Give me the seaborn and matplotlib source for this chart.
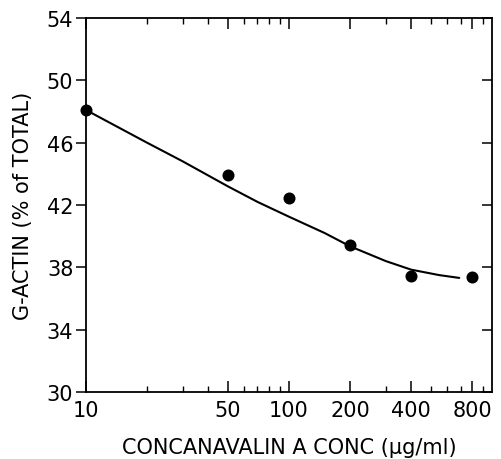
#importing plotting libraries
import matplotlib
matplotlib.use("Agg")
import matplotlib.pyplot as plt
import matplotlib.ticker as mticker
import seaborn as sns
import pandas as pd

#measured points (concanavalin A conc, % G-actin)
conc = [10, 50, 100, 200, 400, 800]
g_actin = [48.1, 43.95, 42.45, 39.45, 37.45, 37.4]

#fitted curve
curve_conc = [10, 20, 30, 50, 70, 100, 150, 200, 300, 400, 550, 690]
curve_val = [48.1, 46.0, 44.8, 43.2, 42.2, 41.25, 40.2, 39.35, 38.4, 37.85, 37.5, 37.32]

#tick positions and labels
x_ticks = [10, 50, 100, 200, 400, 800]
x_minor = [20, 30, 40, 60, 70, 80, 90, 300, 500, 600, 700, 900]
y_ticks = [30, 34, 38, 42, 46, 50, 54]

pts = pd.DataFrame({"conc": conc, "g_actin": g_actin})
curve = pd.DataFrame({"conc": curve_conc, "val": curve_val})

sns.set_style("ticks")
plt.rcParams["font.family"] = ["DejaVu Sans"]
plt.rcParams["text.color"] = "black"
plt.rcParams["axes.labelcolor"] = "black"
plt.rcParams["xtick.color"] = "black"
plt.rcParams["ytick.color"] = "black"
plt.rcParams["axes.edgecolor"] = "black"

fig = plt.figure(figsize=(5.02, 4.6), dpi=100)
ax = fig.add_axes([0.171, 0.1457, 0.809, 0.813])

#drawing curve and points
sns.lineplot(data=curve, x="conc", y="val", color="black", linewidth=1.5, ax=ax)
sns.scatterplot(data=pts, x="conc", y="g_actin", color="black", s=75,
                edgecolor="black", linewidth=0, ax=ax, clip_on=False, zorder=5)

ax.set_xscale("log")
ax.set_xlim(10, 1000)
ax.set_ylim(30, 54)

ax.xaxis.set_major_locator(mticker.FixedLocator(x_ticks))
ax.xaxis.set_major_formatter(mticker.FixedFormatter([str(t) for t in x_ticks]))
ax.xaxis.set_minor_locator(mticker.FixedLocator(x_minor))
ax.xaxis.set_minor_formatter(mticker.NullFormatter())
ax.set_yticks(y_ticks)

for s in ax.spines.values():
    s.set_linewidth(1.3)
    s.set_visible(True)

ax.tick_params(axis="x", which="major", direction="in", length=8, width=1.1,
               top=True, labelsize=15, pad=6)
ax.tick_params(axis="x", which="minor", direction="in", length=4, width=1.0, top=True)
ax.tick_params(axis="y", which="major", direction="out", length=7, width=1.1,
               labelsize=15, pad=2)

#right side ticks point inward
ax2 = ax.twinx()
ax2.set_ylim(30, 54)
ax2.set_yticks(y_ticks)
ax2.tick_params(axis="y", direction="in", length=7, width=1.1, labelright=False)
for s in ax2.spines.values():
    s.set_visible(False)

ax.set_xlabel("CONCANAVALIN A CONC (µg/ml)", fontsize=15, labelpad=12)
ax.set_ylabel("G-ACTIN (% of TOTAL)", fontsize=15, labelpad=10)

fig.savefig("out.png", dpi=100)
